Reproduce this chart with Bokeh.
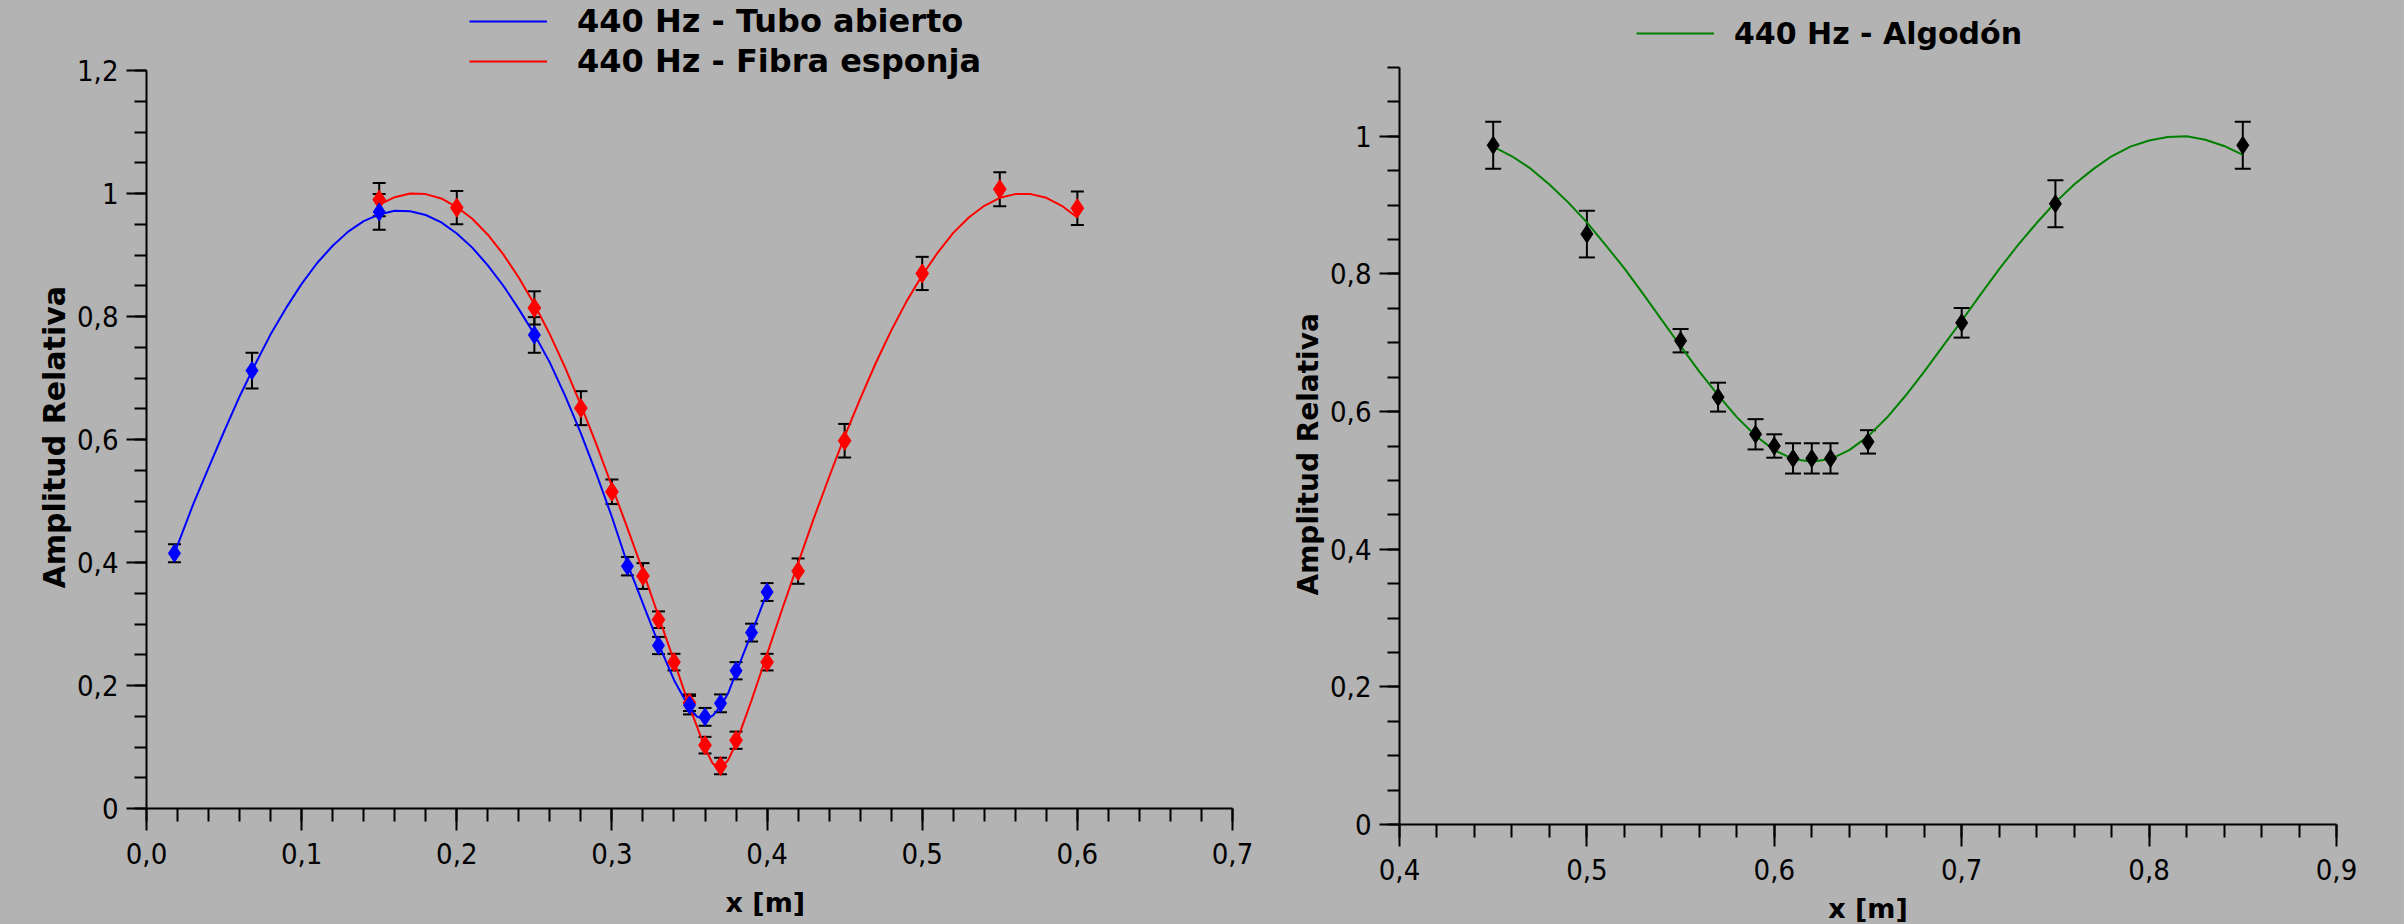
from bokeh.plotting import figure
from bokeh.models import (ColumnDataSource, Whisker, TeeHead, Legend, LegendItem,
                          FixedTicker, Title, Range1d)
from bokeh.layouts import row
from bokeh.embed import file_html
from bokeh.resources import INLINE

# ---------------- data ----------------
tubo_x = [0.018, 0.068, 0.15, 0.25, 0.31, 0.33, 0.35, 0.36, 0.37, 0.38, 0.39, 0.40]
tubo_y = [0.415, 0.712, 0.970, 0.770, 0.394, 0.265, 0.168, 0.149, 0.171, 0.224, 0.286, 0.352]
tubo_err = [0.0145, 0.029, 0.029, 0.029, 0.015, 0.014, 0.015, 0.0145, 0.0145, 0.014, 0.0145, 0.0145]

fibra_x = [0.15, 0.20, 0.25, 0.28, 0.30, 0.32, 0.33, 0.34, 0.35, 0.36, 0.37, 0.38,
           0.40, 0.42, 0.45, 0.50, 0.55, 0.60]
fibra_y = [0.990, 0.977, 0.814, 0.651, 0.515, 0.378, 0.307, 0.238, 0.172, 0.103, 0.069, 0.111,
           0.238, 0.386, 0.598, 0.870, 1.007, 0.976]
fibra_err = [0.027, 0.027, 0.027, 0.0276, 0.020, 0.021, 0.0135, 0.0135, 0.0135, 0.0135, 0.0135, 0.014,
             0.0135, 0.0206, 0.0273, 0.027, 0.0276, 0.0274]

algodon_x = [0.45, 0.50, 0.55, 0.57, 0.59, 0.60, 0.61, 0.62, 0.63, 0.65, 0.70, 0.75, 0.85]
algodon_y = [0.987, 0.858, 0.703, 0.621, 0.567, 0.550, 0.532, 0.532, 0.532, 0.556, 0.729, 0.902, 0.987]
algodon_err = [0.034, 0.034, 0.017, 0.021, 0.022, 0.017, 0.022, 0.022, 0.022, 0.017, 0.0215, 0.034, 0.034]

# fitted curves
tubo_fit_x = [0.018, 0.03, 0.04, 0.05, 0.06, 0.07, 0.08, 0.09, 0.10, 0.11, 0.12, 0.13, 0.14,
              0.15, 0.16, 0.17, 0.18, 0.19, 0.20, 0.21, 0.22, 0.23, 0.24, 0.25, 0.26, 0.27,
              0.28, 0.29, 0.30, 0.31, 0.32, 0.33, 0.34, 0.35, 0.355, 0.36, 0.365, 0.37,
              0.375, 0.38, 0.39, 0.40]
tubo_fit_y = [0.415, 0.494, 0.554, 0.613, 0.670, 0.722, 0.771, 0.814, 0.853, 0.887, 0.915, 0.938, 0.955,
              0.966, 0.972, 0.971, 0.965, 0.953, 0.935, 0.912, 0.883, 0.850, 0.812, 0.771, 0.725, 0.670,
              0.610, 0.544, 0.474, 0.398, 0.333, 0.268, 0.209, 0.163, 0.149, 0.145, 0.151, 0.166,
              0.188, 0.221, 0.285, 0.351]

fibra_fit_x = [0.15, 0.16, 0.17, 0.18, 0.19, 0.20, 0.21, 0.22, 0.23, 0.24, 0.25, 0.26, 0.27,
               0.28, 0.29, 0.30, 0.31, 0.32, 0.33, 0.34, 0.35, 0.36, 0.365, 0.37, 0.375, 0.38,
               0.39, 0.40, 0.41, 0.42, 0.43, 0.44, 0.45, 0.46, 0.47, 0.48, 0.49, 0.50, 0.51,
               0.52, 0.53, 0.54, 0.55, 0.56, 0.57, 0.58, 0.59, 0.60]
fibra_fit_y = [0.982, 0.994, 1.000, 0.999, 0.992, 0.978, 0.959, 0.933, 0.901, 0.863, 0.820, 0.771, 0.716,
               0.656, 0.592, 0.524, 0.456, 0.386, 0.313, 0.240, 0.166, 0.098, 0.073, 0.065, 0.079, 0.106,
               0.176, 0.251, 0.326, 0.399, 0.471, 0.539, 0.605, 0.666, 0.724, 0.777, 0.825, 0.867, 0.904,
               0.936, 0.961, 0.980, 0.993, 0.999, 0.999, 0.993, 0.980, 0.961]

algodon_fit_x = [0.45, 0.46, 0.47, 0.48, 0.49, 0.50, 0.51, 0.52, 0.53, 0.54, 0.55, 0.56, 0.57,
                 0.58, 0.59, 0.60, 0.61, 0.62, 0.63, 0.64, 0.65, 0.66, 0.67, 0.68, 0.69, 0.70,
                 0.71, 0.72, 0.73, 0.74, 0.75, 0.76, 0.77, 0.78, 0.79, 0.80, 0.81, 0.82, 0.83,
                 0.84, 0.85]
algodon_fit_y = [0.985, 0.971, 0.953, 0.930, 0.904, 0.875, 0.842, 0.808, 0.771, 0.733, 0.695, 0.658, 0.624,
                 0.592, 0.565, 0.544, 0.531, 0.527, 0.531, 0.544, 0.564, 0.591, 0.623, 0.658, 0.695, 0.732,
                 0.770, 0.807, 0.842, 0.874, 0.904, 0.930, 0.952, 0.971, 0.985, 0.994, 0.999, 1.000, 0.995,
                 0.986, 0.973]

# ticks
left_xticks = [0.0, 0.1, 0.2, 0.3, 0.4, 0.5, 0.6, 0.7]
left_xtick_labels = ["0,0", "0,1", "0,2", "0,3", "0,4", "0,5", "0,6", "0,7"]
left_yticks = [0.0, 0.2, 0.4, 0.6, 0.8, 1.0, 1.2]
left_ytick_labels = ["0", "0,2", "0,4", "0,6", "0,8", "1", "1,2"]
right_xticks = [0.4, 0.5, 0.6, 0.7, 0.8, 0.9]
right_xtick_labels = ["0,4", "0,5", "0,6", "0,7", "0,8", "0,9"]
right_yticks = [0.0, 0.2, 0.4, 0.6, 0.8, 1.0]
right_ytick_labels = ["0", "0,2", "0,4", "0,6", "0,8", "1"]

# ---------------- styling ----------------
BG = "#b3b3b3"
TICK_FONT = "DejaVu Sans Condensed"
TICK_SIZE = "29px"


def style_axes(p, xticks, xlabels, xminor, yticks, ylabels, yminor, ybounds):
    xa, ya = p.xaxis[0], p.yaxis[0]
    xa.ticker = FixedTicker(ticks=xticks, minor_ticks=xminor)
    ya.ticker = FixedTicker(ticks=yticks, minor_ticks=yminor)
    xa.major_label_overrides = dict(zip(xticks, xlabels))
    ya.major_label_overrides = dict(zip(yticks, ylabels))
    ya.bounds = ybounds
    for ax in (xa, ya):
        ax.axis_line_color = "black"
        ax.axis_line_width = 2
        ax.major_tick_line_color = "black"
        ax.minor_tick_line_color = "black"
        ax.major_tick_line_width = 2
        ax.minor_tick_line_width = 2
        ax.major_tick_in = 0
        ax.minor_tick_in = 0
        ax.major_label_text_font = TICK_FONT
        ax.major_label_text_font_size = TICK_SIZE
        ax.major_label_text_color = "black"
        ax.axis_label_text_font = "DejaVu Sans"
        ax.axis_label_text_font_style = "bold"
        ax.axis_label_text_color = "black"
    xa.major_tick_out = 22
    xa.minor_tick_out = 13
    ya.major_tick_out = 20
    ya.minor_tick_out = 12
    xa.major_label_standoff = 12
    ya.major_label_standoff = 8


def make_fig(xr, ytop_axis, fw, fh_axis, top_space, left, right, bottom):
    # frame reaches the top of the canvas so the legend can sit above the axis end
    fh = fh_axis + top_space
    ytop = ytop_axis * fh / fh_axis
    p = figure(frame_width=fw, frame_height=fh, x_range=Range1d(*xr), y_range=Range1d(0.0, ytop),
               output_backend="svg", toolbar_location=None,
               min_border_left=left, min_border_right=right,
               min_border_top=0, min_border_bottom=bottom)
    p.background_fill_color = BG
    p.border_fill_color = BG
    p.outline_line_color = None
    p.xgrid.visible = False
    p.ygrid.visible = False
    return p


def add_errorbars(p, xs, ys, errs, cap):
    src = ColumnDataSource(data=dict(x=xs, upper=[y + e for y, e in zip(ys, errs)],
                                     lower=[y - e for y, e in zip(ys, errs)]))
    w = Whisker(source=src, base="x", upper="upper", lower="lower",
                line_color="black", line_width=2, level="underlay",
                upper_head=TeeHead(size=cap, line_color="black", line_width=2),
                lower_head=TeeHead(size=cap, line_color="black", line_width=2))
    p.add_layout(w)


def side_title(text, size, align, offset, valign, standoff):
    return Title(text=text, align=align, offset=offset, vertical_align=valign, standoff=standoff,
                 text_font="DejaVu Sans", text_font_style="bold", text_font_size=size,
                 text_color="black")


# ---------------- left chart ----------------
p1 = make_fig((0.0, 0.7), 1.2, 1086, 738, 70, 146, 30, 116)
style_axes(p1, left_xticks, left_xtick_labels, [round(0.02 * i, 2) for i in range(36)],
           left_yticks, left_ytick_labels, [round(0.05 * i, 2) for i in range(25)], (0.0, 1.2))

add_errorbars(p1, fibra_x, fibra_y, fibra_err, 13)
add_errorbars(p1, tubo_x, tubo_y, tubo_err, 13)
red_line = p1.line(fibra_fit_x, fibra_fit_y, line_color="#ff0000", line_width=2)
blue_line = p1.line(tubo_fit_x, tubo_fit_y, line_color="#0000ff", line_width=2)
p1.scatter(fibra_x, fibra_y, marker="diamond", size=19, fill_color="#ff0000", line_color="#ff0000")
p1.scatter(tubo_x, tubo_y, marker="diamond", size=18, fill_color="#0000ff", line_color="#0000ff")

p1.add_layout(side_title("x [m]", "27px", "left", 579, "top", 40), "below")
p1.add_layout(side_title("Amplitud Relativa", "30px", "left", 220, "middle", 4), "left")

leg1 = Legend(items=[LegendItem(label="440 Hz - Tubo abierto", renderers=[blue_line]),
                     LegendItem(label="440 Hz - Fibra esponja", renderers=[red_line])],
              location=(323, 728), padding=0, margin=0, spacing=2,
              glyph_width=78, glyph_height=36, label_height=36, label_standoff=30,
              label_text_font="DejaVu Sans", label_text_font_style="bold",
              label_text_font_size="32px", label_text_color="black",
              border_line_color=None, background_fill_alpha=0)
p1.add_layout(leg1, "center")

# ---------------- right chart ----------------
p2 = make_fig((0.4, 0.9), 1.1, 937, 757, 67, 137, 68, 100)
style_axes(p2, right_xticks, right_xtick_labels, [round(0.4 + 0.02 * i, 2) for i in range(26)],
           right_yticks, right_ytick_labels, [round(0.05 * i, 2) for i in range(23)], (0.0, 1.1))
p2.xaxis[0].axis_label = "x [m]"
p2.xaxis[0].axis_label_text_font_size = "27px"
p2.xaxis[0].axis_label_standoff = 10
p2.add_layout(side_title("Amplitud Relativa", "28px", "left", 229, "middle", 4), "left")

add_errorbars(p2, algodon_x, algodon_y, algodon_err, 16)
green_line = p2.line(algodon_fit_x, algodon_fit_y, line_color="#008000", line_width=2)
p2.scatter(algodon_x, algodon_y, marker="diamond", size=18, fill_color="black", line_color="black")

leg2 = Legend(items=[LegendItem(label="440 Hz - Algodón", renderers=[green_line])],
              location=(237, 773), padding=0, margin=0, spacing=2,
              glyph_width=78, glyph_height=36, label_height=36, label_standoff=20,
              label_text_font="DejaVu Sans", label_text_font_style="bold",
              label_text_font_size="30px", label_text_color="black",
              border_line_color=None, background_fill_alpha=0)
p2.add_layout(leg2, "center")

layout = row(p1, p2, spacing=0)
layout.styles = {"background-color": BG}

open("out.html", "w").write(file_html(layout, INLINE))
